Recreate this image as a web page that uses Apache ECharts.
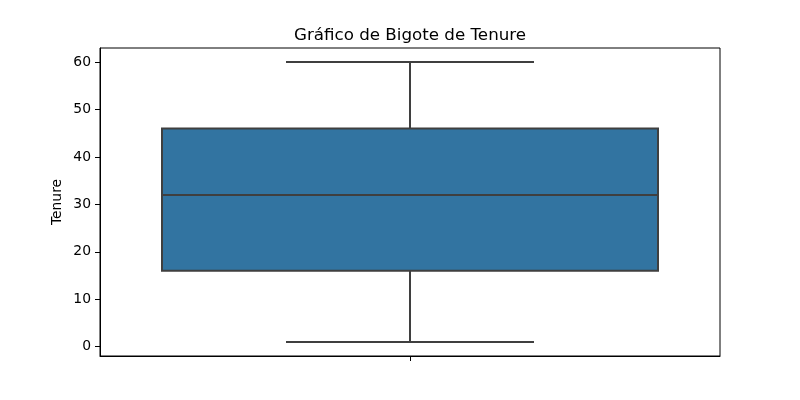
<!DOCTYPE html>
<html>
<head>
<meta charset="utf-8">
<script src="https://cdn.jsdelivr.net/npm/echarts@6/dist/echarts.min.js"></script>
<style>html,body{margin:0;padding:0;background:#fff}#c{width:800px;height:400px}</style>
</head>
<body>
<div id="c"></div>
<script>
const categories = [''];
const whiskerLow = [1];
const q1 = [16];
const median = [32];
const q3 = [46];
const whiskerHigh = [60];
const yTicks = [0, 10, 20, 30, 40, 50, 60];
const yMin = -1.95, yMax = 62.95;

const data = categories.map((c, i) => [i, whiskerLow[i], q1[i], median[i], q3[i], whiskerHigh[i]]);
const FONT = 'DejaVu Sans';
const LINE = '#3f3f3f';

const chart = echarts.init(document.getElementById('c'), null, {renderer: 'canvas'});
chart.setOption({
  animation: false,
  backgroundColor: '#fff',
  title: {
    text: 'Gráfico de Bigote de Tenure',
    left: 410, top: 27, textAlign: 'center', padding: 0,
    textStyle: {fontFamily: FONT, fontSize: 16.7, fontWeight: 'normal', color: '#000'}
  },
  grid: {left: 100, right: 80, top: 48, bottom: 44, show: true, borderColor: '#000', borderWidth: 1, backgroundColor: 'transparent'},
  xAxis: {
    type: 'value', min: -0.5, max: 0.5,
    splitLine: {show: false},
    axisLine: {show: true, onZero: false, lineStyle: {color: '#000', width: 1}},
    axisTick: {show: true, length: 5, lineStyle: {color: '#000'}, customValues: [0]},
    axisLabel: {show: false}
  },
  yAxis: {
    type: 'value', min: yMin, max: yMax,
    name: 'Tenure', nameLocation: 'middle', nameGap: 36, nameMoveOverlap: false,
    nameTextStyle: {fontFamily: FONT, fontSize: 13.9, color: '#000'},
    splitLine: {show: false},
    axisLine: {show: true, onZero: false, lineStyle: {color: '#000', width: 1}},
    axisTick: {show: true, length: 5, lineStyle: {color: '#000'}, customValues: yTicks},
    axisLabel: {fontFamily: FONT, fontSize: 13.9, color: '#000', margin: 9, padding: [3, 0, 0, 0], customValues: yTicks}
  },
  series: [{
    type: 'custom',
    data: data,
    encode: {x: 0, y: [1, 2, 3, 4, 5]},
    renderItem: function (params, api) {
      const x = api.value(0);
      const lo = api.value(1), a = api.value(2), m = api.value(3), b = api.value(4), hi = api.value(5);
      const half = 0.4, cap = 0.2;
      const pLo = api.coord([x, lo]), pA = api.coord([x, a]), pB = api.coord([x, b]), pHi = api.coord([x, hi]);
      const bl = api.coord([x - half, b]), br = api.coord([x + half, a]);
      const cl = api.coord([x - cap, lo]), cr = api.coord([x + cap, lo]);
      const hl = api.coord([x - cap, hi]), hr = api.coord([x + cap, hi]);
      const ml = api.coord([x - half, m]), mr = api.coord([x + half, m]);
      const ls = {stroke: LINE, lineWidth: 2};
      return {
        type: 'group',
        children: [
          {type: 'line', shape: {x1: pLo[0], y1: pLo[1], x2: pA[0], y2: pA[1]}, style: ls},
          {type: 'line', shape: {x1: pB[0], y1: pB[1], x2: pHi[0], y2: pHi[1]}, style: ls},
          {type: 'line', shape: {x1: cl[0], y1: cl[1], x2: cr[0], y2: cr[1]}, style: ls},
          {type: 'line', shape: {x1: hl[0], y1: hl[1], x2: hr[0], y2: hr[1]}, style: ls},
          {type: 'rect', shape: {x: bl[0], y: bl[1], width: br[0] - bl[0], height: br[1] - bl[1]},
            style: {fill: '#3274a1', stroke: LINE, lineWidth: 2}},
          {type: 'line', shape: {x1: ml[0], y1: ml[1], x2: mr[0], y2: mr[1]}, style: ls}
        ]
      };
    }
  }]
});
</script>
</body>
</html>
